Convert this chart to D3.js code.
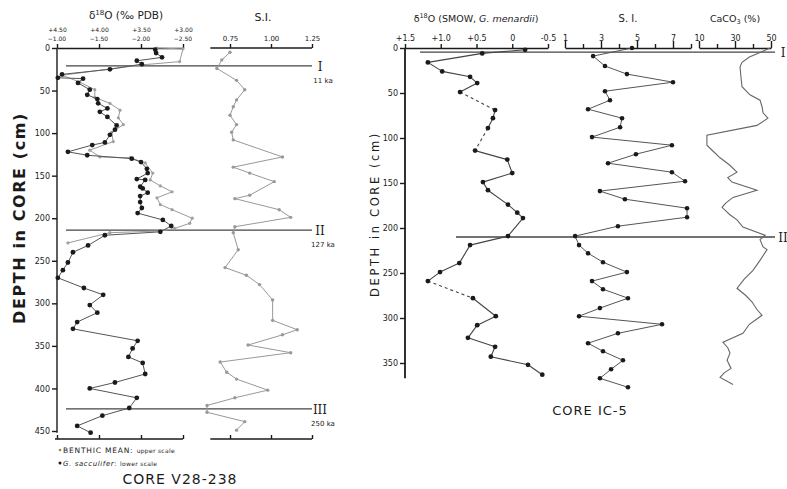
<!DOCTYPE html>
<html><head><meta charset="utf-8">
<script src="https://cdn.jsdelivr.net/npm/d3@7"></script>
<style>
body{margin:0;background:#fff;}
svg{display:block;font-family:"DejaVu Sans",Arial,sans-serif;}
</style></head>
<body><svg id="c" width="787" height="489"></svg>
<script>
// ---------- CORE V28-238 (left) ----------
const leftDepthTicks = [0,50,100,150,200,250,300,350,400,450];
const upperScaleTicks = [4.5,4.0,3.5,3.0];          // benthic mean (upper scale)
const lowerScaleTicks = [-1.0,-1.5,-2.0,-2.5];      // G. sacculifer (lower scale)
const leftSITicks = [0.75,1.00,1.25];

const saccDepth = [2,6,11,15,19,25,31,35,36,41,49,55,60,65,71,75,81,91,96,102,111,114,122,126,130,134,142,147,154,155,163,165,170,174,181,188,194,202,209,216,220,232,240,252,261,270,282,290,302,311,322,330,344,353,363,370,383,393,400,411,423,432,444,452];
const saccValue = [-2.17,-2.18,-2.25,-1.95,-2.01,-1.63,-1.06,-1.01,-1.31,-1.25,-1.39,-1.36,-1.48,-1.49,-1.60,-1.51,-1.60,-1.71,-1.69,-1.63,-1.57,-1.42,-1.13,-1.36,-1.89,-2.00,-2.07,-2.08,-1.95,-2.05,-1.99,-2.02,-2.08,-1.99,-1.99,-2.01,-1.96,-2.26,-2.36,-2.23,-1.57,-1.37,-1.19,-1.13,-1.07,-1.01,-1.32,-1.55,-1.39,-1.48,-1.24,-1.19,-1.96,-1.90,-1.85,-2.02,-2.05,-1.69,-1.39,-1.95,-1.86,-1.54,-1.24,-1.40];

const benthDepth = [0,1,16,20,32,40,49,58,65,73,82,90,99,110,120,128,129,135,147,155,162,169,176,184,190,200,206,212,215,217,229];
const benthValue = [3.31,3.00,3.04,3.51,4.44,4.23,4.05,4.05,3.87,3.75,3.77,3.71,3.85,3.83,4.11,3.99,3.63,3.45,3.36,3.39,3.27,3.13,3.31,3.27,3.13,2.89,2.92,3.10,3.27,3.87,4.37];

const siLDepth = [5,14,24,38,49,61,69,79,90,99,108,128,140,147,157,173,177,190,199,210,217,237,258,267,278,296,320,331,337,349,358,369,381,389,402,411,420,428,439,449];
const siLValue = [0.75,0.70,0.67,0.79,0.84,0.79,0.77,0.75,0.79,0.76,0.77,1.07,0.77,0.87,1.02,0.87,0.78,1.05,1.12,0.78,0.77,0.80,0.72,0.85,0.93,1.01,1.01,1.16,1.07,0.86,1.12,0.69,0.73,0.79,0.98,0.78,0.61,0.61,0.84,0.79];

const leftHorizons = [{depth:21,num:"I",age:"11 ka"},{depth:214,num:"II",age:"127 ka"},{depth:424,num:"III",age:"250 ka"}];

// ---------- CORE IC-5 (right) ----------
const rightDepthTicks = [0,50,100,150,200,250,300,350];
const menTicks = [1.5,1.0,0.5,0,-0.5];
const menTickLabels = ["+1.5","+1.0","+0.5","0","-0.5"];
const siRTicks = [1,2,3,4,5,6,7,8];
const siRLabels = ["1","3","5","7"];
const caTicks = [10,20,30,40,50];
const caLabels = ["10","30","50"];

const menDepth = [2,6,16,26,32,39,49,69,78,89,114,124,139,149,158,174,183,189,209,219,239,249,259,278,298,308,322,332,343,352,363];
const menValue = [-0.18,0.42,1.18,0.98,0.59,0.49,0.73,0.24,0.27,0.34,0.52,0.07,0.00,0.41,0.34,0.06,-0.07,-0.15,0.06,0.59,0.74,1.01,1.18,0.55,0.23,0.49,0.62,0.24,0.30,-0.22,-0.42];
const menDashedFrom = [49,89,259];

const siRDepth = [0,9,20,29,38,48,58,68,78,88,99,108,118,128,138,148,159,168,178,188,198,209,219,228,238,249,259,268,278,289,298,307,317,328,337,347,357,367,377];
const siRValue = [4.72,2.56,3.22,4.44,7.0,3.22,3.5,2.28,4.17,4.06,2.5,6.94,4.94,3.39,6.94,7.67,2.94,4.33,7.78,7.78,3.94,1.56,1.78,2.28,3.11,4.44,2.5,3.11,4.5,2.94,1.78,6.39,3.94,2.28,3.11,4.22,3.56,2.94,4.5];

const caDepth = [0,5,10,16,21,30,43,52,58,65,72,78,86,97,108,115,122,130,138,144,149,158,166,172,177,185,191,199,208,213,221,224,236,247,257,267,275,282,290,297,307,317,327,333,339,347,356,361,366,374];
const caValue = [49.4,43.9,38,33.9,32.8,33.2,33.9,38.3,43.9,45,45.6,48.3,42.2,14.4,14.4,18,21.7,27,31.1,26,28.3,42.2,28.9,25,22.8,27,31.1,34.4,46.7,43.9,45.6,47.8,43.9,40,35,31.1,36,39.4,42,45,38,34.4,23.3,26,27.2,25.6,27.8,24,21.7,28.9];

const rightHorizons = [{depth:4.5,num:"I"},{depth:210,num:"II"}];

// ---------- drawing ----------
const svg = d3.select("#c");
const ink = "#1b1b1b";

const yL = d3.scaleLinear().domain([0,450]).range([48,431]);
const xUp = d3.scaleLinear().domain([4.5,3.0]).range([57,183]);
const xLo = d3.scaleLinear().domain([-1.0,-2.5]).range([57,183]);
const xSIL = d3.scaleLinear().domain([0.75,1.25]).range([230,312]);
const yR = d3.scaleLinear().domain([0,350]).range([48,363]);
const xMen = d3.scaleLinear().domain([1.5,-0.5]).range([405,548]);
const xSIR = d3.scaleLinear().domain([1,8]).range([565,691]);
const xCa = d3.scaleLinear().domain([10,50]).range([699,771]);

function styleAxis(g, fs){
  g.selectAll("path,line").attr("stroke", ink).attr("stroke-width",1.4);
  g.selectAll("text").attr("fill", ink).attr("font-size", fs).attr("font-family","DejaVu Sans, sans-serif");
}

// ---- left axes ----
const gLY = svg.append("g").attr("transform","translate(57,0)")
  .call(d3.axisLeft(yL).tickValues(leftDepthTicks).tickSize(5).tickSizeOuter(0).tickPadding(2));
styleAxis(gLY, 8);
gLY.select(".domain").attr("d", `M0,${yL(0)}V${yL(452)}`);

const gLTop = svg.append("g").attr("transform",`translate(0,${yL(0)})`)
  .call(d3.axisTop(xUp).tickValues(upperScaleTicks).tickSize(4).tickSizeOuter(0).tickPadding(12)
    .tickFormat(d=>"+"+d3.format(".2f")(d)));
styleAxis(gLTop, 6);
svg.append("g").selectAll("text").data(lowerScaleTicks).join("text")
  .attr("x", d=>xLo(d)).attr("y", 41).attr("text-anchor","middle")
  .attr("font-size",6).attr("fill",ink).text(d=>d3.format(".2f")(d));
svg.append("text").attr("x",126).attr("y",19).attr("text-anchor","middle")
  .attr("font-size",10.5).attr("fill",ink)
  .html('δ<tspan dy="-4" font-size="7">18</tspan><tspan dy="4">O (‰ PDB)</tspan>');

const gLBot = svg.append("g").attr("transform","translate(0,439)")
  .call(d3.axisTop(xUp).tickValues(upperScaleTicks).tickSize(4).tickSizeOuter(0).tickFormat(""));
styleAxis(gLBot, 0);
gLBot.select(".domain").attr("d","M55,0H183");

const gSITop = svg.append("g").attr("transform",`translate(0,${yL(0)})`)
  .call(d3.axisTop(xSIL).tickValues(leftSITicks).tickSize(4).tickSizeOuter(0).tickPadding(3)
    .tickFormat(d3.format(".2f")));
styleAxis(gSITop, 7);
gSITop.select(".domain").attr("d",`M${xSIL(0.63)},0H${xSIL(1.25)}`);
svg.append("text").attr("x",263).attr("y",21).attr("text-anchor","middle")
  .attr("font-size",11).attr("fill",ink).text("S.I.");
const gSIBot = svg.append("g").attr("transform","translate(0,439)")
  .call(d3.axisTop(xSIL).tickValues(leftSITicks).tickSize(4).tickSizeOuter(0).tickFormat(""));
styleAxis(gSIBot, 0);
gSIBot.select(".domain").attr("d",`M${xSIL(0.63)},0H${xSIL(1.25)}`);

svg.append("text").attr("transform","translate(25,218) rotate(-90)")
  .attr("text-anchor","middle").attr("font-size",16).attr("letter-spacing",1.6)
  .attr("fill",ink).attr("font-weight","bold").text("DEPTH in CORE (cm)");

leftHorizons.forEach(h=>{
  svg.append("line").attr("x1",66).attr("x2",312).attr("y1",yL(h.depth)).attr("y2",yL(h.depth))
    .attr("stroke","#444").attr("stroke-width",1.3);
  svg.append("text").attr("x",320).attr("y",yL(h.depth)+5).attr("text-anchor","middle")
    .attr("font-family","DejaVu Serif, serif").attr("font-size",12).attr("fill",ink).text(h.num);
  svg.append("text").attr("x",323).attr("y",yL(h.depth)+17).attr("text-anchor","middle")
    .attr("font-size",7).attr("fill",ink).text(h.age);
});

const bData = benthDepth.map((d,i)=>[d,benthValue[i]]);
svg.append("path").datum(bData).attr("fill","none").attr("stroke","#9a9a9a").attr("stroke-width",1)
  .attr("d", d3.line().x(d=>xUp(d[1])).y(d=>yL(d[0])));
svg.append("g").selectAll("circle").data(bData).join("circle")
  .attr("cx",d=>xUp(d[1])).attr("cy",d=>yL(d[0])).attr("r",1.6).attr("fill","#a0a0a0");

const sData = saccDepth.map((d,i)=>[d,saccValue[i]]);
svg.append("path").datum(sData).attr("fill","none").attr("stroke","#555").attr("stroke-width",1)
  .attr("d", d3.line().x(d=>xLo(d[1])).y(d=>yL(d[0])));
svg.append("g").selectAll("circle").data(sData).join("circle")
  .attr("cx",d=>xLo(d[1])).attr("cy",d=>yL(d[0])).attr("r",2.4).attr("fill",ink);

const siLData = siLDepth.map((d,i)=>[d,siLValue[i]]);
svg.append("path").datum(siLData).attr("fill","none").attr("stroke","#999").attr("stroke-width",1)
  .attr("d", d3.line().x(d=>xSIL(d[1])).y(d=>yL(d[0])));
svg.append("g").selectAll("circle").data(siLData).join("circle")
  .attr("cx",d=>xSIL(d[1])).attr("cy",d=>yL(d[0])).attr("r",1.7).attr("fill","#999");

const leg = svg.append("g");
leg.append("circle").attr("cx",60).attr("cy",450).attr("r",1.3).attr("fill","#888");
leg.append("text").attr("x",63).attr("y",453).attr("font-size",7.5).attr("letter-spacing",0.8).attr("fill",ink)
  .html('BENTHIC MEAN: <tspan font-size="6" letter-spacing="0.3" fill="#1b1b1b">upper scale</tspan>');
leg.append("circle").attr("cx",60).attr("cy",463).attr("r",1.5).attr("fill",ink);
leg.append("text").attr("x",63).attr("y",466).attr("font-size",7).attr("letter-spacing",0.6).attr("fill",ink)
  .html('<tspan font-style="italic" fill="#1b1b1b">G. sacculifer</tspan>:  <tspan font-size="6" letter-spacing="0.3" fill="#1b1b1b">lower scale</tspan>');
svg.append("text").attr("x",180).attr("y",484).attr("text-anchor","middle").attr("font-size",14)
  .attr("letter-spacing",1).attr("fill",ink).text("CORE V28-238");

// ---- right axes ----
const gRY = svg.append("g").attr("transform","translate(405,0)")
  .call(d3.axisLeft(yR).tickValues(rightDepthTicks).tickSize(5).tickSizeOuter(0).tickPadding(2));
styleAxis(gRY, 8);
gRY.select(".domain").attr("d",`M0,${yR(0)}V${yR(367)}`).attr("stroke-width",1.8);

const gMen = svg.append("g").attr("transform",`translate(0,${yR(0)})`)
  .call(d3.axisTop(xMen).tickValues(menTicks).tickSize(4).tickSizeOuter(0).tickPadding(3)
    .tickFormat((d,i)=>menTickLabels[i]));
styleAxis(gMen, 8);
svg.append("text").attr("x",476).attr("y",22).attr("text-anchor","middle")
  .attr("font-size",9.5).attr("fill",ink)
  .html('δ<tspan dy="-4" font-size="6.5">18</tspan><tspan dy="4">O (SMOW, </tspan><tspan font-style="italic">G. menardii</tspan>)');

const gSIR = svg.append("g").attr("transform",`translate(0,${yR(0)})`)
  .call(d3.axisTop(xSIR).tickValues(siRTicks).tickSize(4).tickSizeOuter(0).tickPadding(3)
    .tickFormat(d=> siRLabels.includes(String(d)) ? String(d) : ""));
styleAxis(gSIR, 8);
gSIR.selectAll(".tick line").attr("y2", d=> siRLabels.includes(String(d)) ? -7 : -4);
svg.append("text").attr("x",628).attr("y",22).attr("text-anchor","middle")
  .attr("font-size",10).attr("fill",ink).text("S. I.");

const gCa = svg.append("g").attr("transform",`translate(0,${yR(0)})`)
  .call(d3.axisTop(xCa).tickValues(caTicks).tickSize(4).tickSizeOuter(0).tickPadding(3)
    .tickFormat(d=> caLabels.includes(String(d)) ? String(d) : ""));
styleAxis(gCa, 8);
gCa.selectAll(".tick line").attr("y2", d=> caLabels.includes(String(d)) ? -7 : -4);
svg.append("text").attr("x",735).attr("y",22).attr("text-anchor","middle")
  .attr("font-size",9.5).attr("fill",ink)
  .html('CaCO<tspan dy="2" font-size="6.5">3</tspan><tspan dy="-2"> (%)</tspan>');

svg.append("text").attr("transform","translate(379,214) rotate(-90)")
  .attr("text-anchor","middle").attr("font-size",11.5).attr("letter-spacing",2.6)
  .attr("fill",ink).text("DEPTH in CORE (cm)");

rightHorizons.forEach((h,i)=>{
  svg.append("line").attr("x1", i===0?420:456).attr("x2",775).attr("y1",yR(h.depth)).attr("y2",yR(h.depth))
    .attr("stroke","#444").attr("stroke-width",1.3);
  svg.append("text").attr("x",783).attr("y",yR(h.depth)+5).attr("text-anchor","middle")
    .attr("font-family","DejaVu Serif, serif").attr("font-size",12).attr("fill",ink).text(h.num);
});

const mData = menDepth.map((d,i)=>[d,menValue[i]]);
const segs = d3.pairs(mData);
svg.append("g").selectAll("line").data(segs).join("line")
  .attr("x1",d=>xMen(d[0][1])).attr("y1",d=>yR(d[0][0]))
  .attr("x2",d=>xMen(d[1][1])).attr("y2",d=>yR(d[1][0]))
  .attr("stroke","#444").attr("stroke-width",1.1)
  .attr("stroke-dasharray",d=> menDashedFrom.includes(d[0][0]) ? "3,3" : null);
svg.append("g").selectAll("circle").data(mData).join("circle")
  .attr("cx",d=>xMen(d[1])).attr("cy",d=>yR(d[0])).attr("r",2.4).attr("fill",ink);

const srData = siRDepth.map((d,i)=>[d,siRValue[i]]);
svg.append("path").datum(srData).attr("fill","none").attr("stroke","#555").attr("stroke-width",1)
  .attr("d", d3.line().x(d=>xSIR(d[1])).y(d=>yR(d[0])));
svg.append("g").selectAll("circle").data(srData).join("circle")
  .attr("cx",d=>xSIR(d[1])).attr("cy",d=>yR(d[0])).attr("r",2.3).attr("fill",ink);

const caData = caDepth.map((d,i)=>[d,caValue[i]]);
svg.append("path").datum(caData).attr("fill","none").attr("stroke","#666").attr("stroke-width",1.1)
  .attr("d", d3.line().x(d=>xCa(d[1])).y(d=>yR(d[0])));

svg.append("text").attr("x",590).attr("y",415).attr("text-anchor","middle").attr("font-size",13)
  .attr("letter-spacing",1).attr("fill",ink).text("CORE IC-5");
</script></body></html>
